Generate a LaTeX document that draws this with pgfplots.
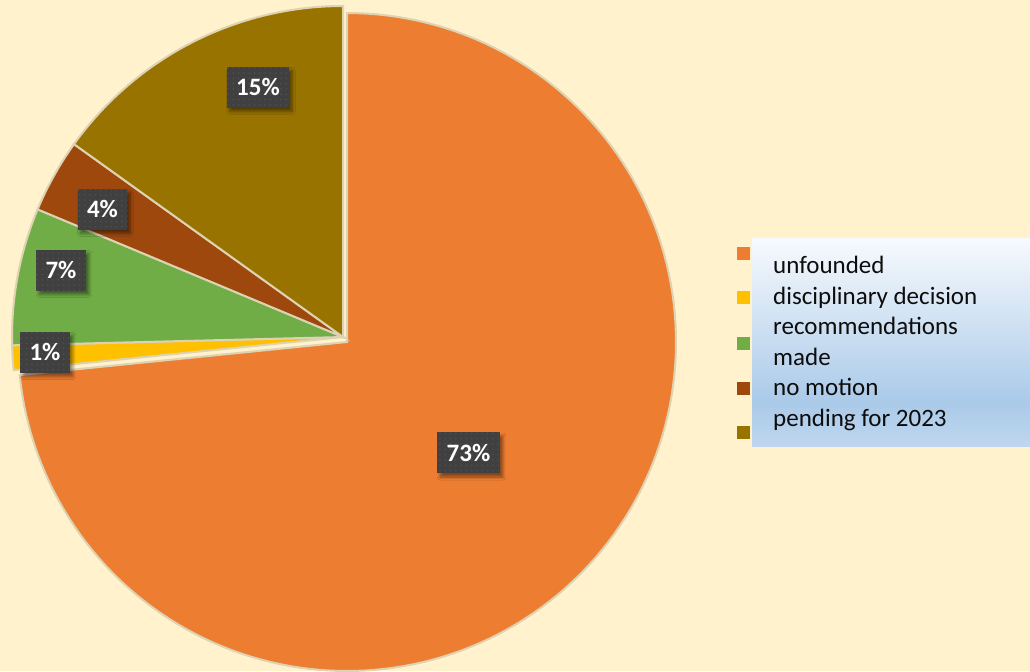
\documentclass[border=0pt]{standalone}
\usepackage{pgfplots}
\pgfplotsset{compat=1.18}
\usepackage{fontspec}
\setmainfont{Carlito}
\usetikzlibrary{shadows.blur,patterns}
\definecolor{bg}{HTML}{FFF2CC}
\definecolor{cOrange}{HTML}{ED7D31}
\definecolor{cYellow}{HTML}{FFC000}
\definecolor{cGreen}{HTML}{70AD47}
\definecolor{cBrown}{HTML}{9E480E}
\definecolor{cOlive}{HTML}{997300}
\definecolor{edge}{HTML}{DDD2B2}
\definecolor{lblgray}{HTML}{404040}
\definecolor{lbldot}{HTML}{505050}
\definecolor{lgA}{HTML}{BFD6EE}
\definecolor{lgB}{HTML}{AACAE9}
\definecolor{lgC}{HTML}{F7FAFD}
\pgfdeclareverticalshading{legsh}{100bp}{color(0bp)=(lgA); color(25bp)=(lgA); color(35.5bp)=(lgB); color(75bp)=(lgC); color(100bp)=(lgC)}
\pgfdeclarepatternformonly{mydots}{\pgfpoint{-1bp}{-1bp}}{\pgfpoint{1bp}{1bp}}{\pgfpoint{5.3bp}{5.3bp}}{\pgfpathcircle{\pgfpointorigin}{0.9bp}\pgfusepath{fill}}
\tikzset{
  lbl/.style={fill=lblgray, text=white, font=\bfseries\fontsize{25bp}{25bp}\selectfont,
    minimum height=41bp, inner xsep=9.5bp, inner ysep=0pt,
    blur shadow={shadow xshift=3bp, shadow yshift=-4bp, shadow blur radius=3bp, shadow blur steps=6, shadow opacity=45},
    postaction={pattern=mydots, pattern color=lbldot}},
  legtxt/.style={anchor=base west, inner sep=0pt, text=black!95, font=\fontsize{25bp}{25bp}\selectfont}}
\begin{document}
\begin{tikzpicture}
\begin{axis}[scale only axis, width=1030bp, height=671bp,
  xmin=0, xmax=1030, ymin=0, ymax=671, y dir=reverse,
  hide axis, clip=false]
\fill[bg] (axis cs:0,0) rectangle (axis cs:1030,671);
% pie: values 73.4, 1.2, 6.7, 3.6, 15.1 (percent), clockwise from top
\addplot[fill=cOrange, draw=edge, line width=2bp, domain=-174.24:90, samples=150, variable=\t]
  ({347+329*cos(\t)},{342-329*sin(\t)}) -- (axis cs:347,342) -- cycle;
\addplot[fill=cYellow, draw=edge, line width=2bp, domain=-178.56:-174.24, samples=6, variable=\t]
  ({343+331*cos(\t)},{337-331*sin(\t)}) -- (axis cs:343,337) -- cycle;
\addplot[fill=cGreen, draw=edge, line width=2bp, domain=-202.68:-178.56, samples=25, variable=\t]
  ({343+331*cos(\t)},{337-331*sin(\t)}) -- (axis cs:343,337) -- cycle;
\addplot[fill=cBrown, draw=edge, line width=2bp, domain=-215.64:-202.68, samples=14, variable=\t]
  ({343+331*cos(\t)},{337-331*sin(\t)}) -- (axis cs:343,337) -- cycle;
\addplot[fill=cOlive, draw=edge, line width=2bp, domain=-270:-215.64, samples=55, variable=\t]
  ({343+331*cos(\t)},{337-331*sin(\t)}) -- (axis cs:343,337) -- cycle;
% data labels
\node[lbl] at (axis cs:468.5,452.5) {73\%};
\node[lbl] at (axis cs:258,87) {15\%};
\node[lbl] at (axis cs:102.5,209) {4\%};
\node[lbl] at (axis cs:61,270) {7\%};
\node[lbl] at (axis cs:45,352) {1\%};
% legend
\shade[shading=legsh] (axis cs:752,238) rectangle (axis cs:1030,446);
\fill[cOrange] (axis cs:737,247) rectangle (axis cs:750,260);
\fill[cYellow] (axis cs:737,291) rectangle (axis cs:750,304);
\fill[cGreen] (axis cs:737,337) rectangle (axis cs:750,350);
\fill[cBrown] (axis cs:737,382) rectangle (axis cs:750,395);
\fill[cOlive] (axis cs:737,426) rectangle (axis cs:750,439);
\node[legtxt] at (axis cs:773,273.5) {unfounded};
\node[legtxt] at (axis cs:773,304) {disciplinary decision};
\node[legtxt] at (axis cs:773,334.5) {recommendations};
\node[legtxt] at (axis cs:773,365) {made};
\node[legtxt] at (axis cs:773,395.5) {no motion};
\node[legtxt] at (axis cs:773,426) {pending for 2023};
\end{axis}
\end{tikzpicture}
\end{document}
